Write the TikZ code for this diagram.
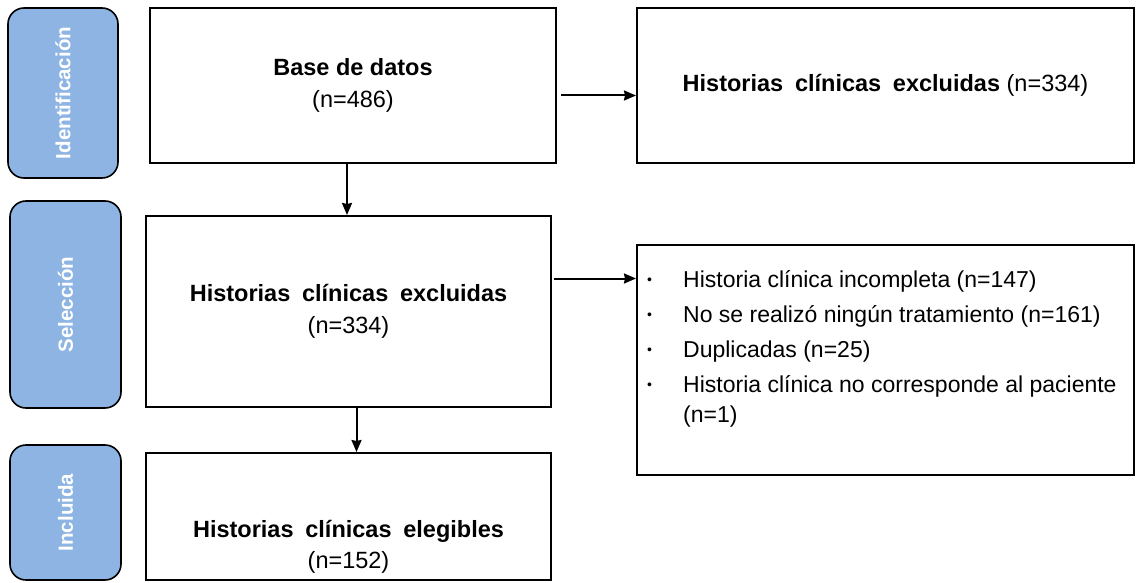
\documentclass[tikz,border=0pt]{standalone}
\usepackage{fontspec}
\setmainfont{Liberation Sans}
\usetikzlibrary{arrows.meta,positioning}
\definecolor{stage}{HTML}{8DB4E2}
\newcommand{\blt}{\makebox[37pt][l]{\hspace*{1pt}\raisebox{3pt}{\fontsize{14}{14}\selectfont\textbullet}}}

\begin{document}
\begin{tikzpicture}[
    x=1pt,y=-1pt,
    stagebox/.style={rectangle,draw,rounded corners=16pt,fill=stage,line width=1.6pt,rotate=90,text=white,font=\bfseries\fontsize{20.5}{24}\selectfont},
    box/.style={rectangle,draw,line width=2pt,align=center,font=\fontsize{23.5}{32}\selectfont},
    arr/.style={-{Stealth[length=12pt,width=10pt,inset=1pt]},line width=2pt},
]
\useasboundingbox (0,0) rectangle (1141,583);

% stages
\node[stagebox,minimum width=170pt,minimum height=110pt] (sid) at (63,93) {Identificación};
\node[stagebox,minimum width=207pt,minimum height=111pt] (ssel) at (65.5,304.5) {Selección};
\node[stagebox,minimum width=135pt,minimum height=111pt] (sinc) at (65.5,512.5) {Incluida};

% flow boxes
\node[box,minimum width=406pt,minimum height=155pt] (base) at (353,85.5) {{\bfseries Base de datos}\\(n=486)};
\node[box,minimum width=497pt,minimum height=155pt] (excl1) at (885.5,85.5) {{\bfseries\spaceskip=0.5em Historias clínicas excluidas} (n=334)};
\node[box,minimum width=405pt,minimum height=191pt] (excl2) at (348.5,311.5) {{\bfseries\spaceskip=0.5em Historias clínicas excluidas}\\(n=334)};
\node[box,minimum width=497pt,minimum height=230pt] (reasons) at (885.5,360) {};
\node[box,minimum width=405pt,minimum height=127pt] (eleg) at (348.5,516.5) {};
\node[align=center,font=\fontsize{23.5}{31}\selectfont] (elegtxt) at (348.5,547) {{\bfseries\spaceskip=0.5em Historias clínicas elegibles}\\(n=152)};

\node[anchor=north west,inner sep=0pt,align=left,font=\fontsize{23}{35}\selectfont] (list) at (646,270) {%
\blt Historia clínica incompleta (n=147)\\
\blt No se realizó ningún tratamiento (n=161)\\
\blt Duplicadas (n=25)\\
\blt Historia clínica no corresponde al paciente\\[-5pt]
\hspace*{37pt}(n=1)};

% connectors
\draw[arr] ([xshift=4pt,yshift=-10pt]base.east) -- ([yshift=-10pt]excl1.west);
\draw[arr] ([xshift=-6pt]base.south) -- ([xshift=-6pt]base.south |- excl2.north);
\draw[arr] ([xshift=2pt,yshift=33pt]excl2.east) coordinate (s2) -- (s2 -| reasons.west);
\draw[arr] ([xshift=8pt]excl2.south) -- ([xshift=8pt]excl2.south |- eleg.north);
\end{tikzpicture}
\end{document}
